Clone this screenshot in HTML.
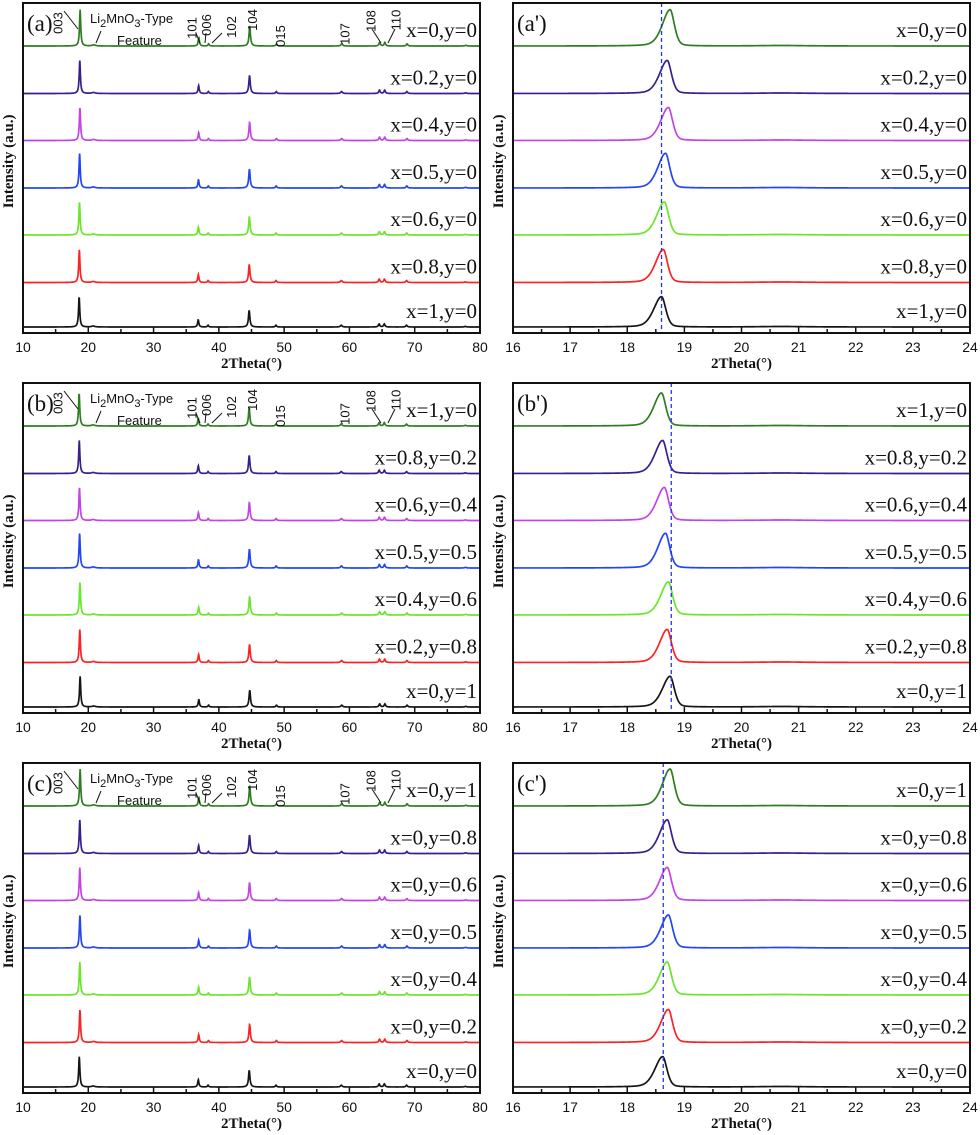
<!DOCTYPE html>
<html><head><meta charset="utf-8">
<style>
html,body{margin:0;padding:0;background:#fff;}
svg{display:block;}
.tk{font-family:"Liberation Sans",sans-serif;font-size:14px;fill:#111;}
.ttl{font-family:"Liberation Serif",serif;font-weight:bold;font-size:15px;fill:#111;}
.lab{font-family:"Liberation Serif",serif;font-size:21px;fill:#111;}
.pl{font-family:"Liberation Serif",serif;font-size:23px;fill:#111;}
.hkl{font-family:"Liberation Sans",sans-serif;font-size:13px;fill:#111;}
</style></head>
<body>
<svg id="fig" width="980" height="1135" viewBox="0 0 980 1135" xmlns="http://www.w3.org/2000/svg"></svg>
<script>
// ---- data ----
const seriesColors = ['#2f7d22','#3a1f8c','#c443e6','#2346f5','#6ae62a','#fb2222','#151515'];
const labelsA = ['x=0,y=0','x=0.2,y=0','x=0.4,y=0','x=0.5,y=0','x=0.6,y=0','x=0.8,y=0','x=1,y=0'];
const labelsB = ['x=1,y=0','x=0.8,y=0.2','x=0.6,y=0.4','x=0.5,y=0.5','x=0.4,y=0.6','x=0.2,y=0.8','x=0,y=1'];
const labelsC = ['x=0,y=1','x=0,y=0.8','x=0,y=0.6','x=0,y=0.5','x=0,y=0.4','x=0,y=0.2','x=0,y=0'];
// main (003) peak centres for zoomed panels
const centersA = [18.75,18.70,18.72,18.67,18.65,18.63,18.60];
const centersB = [18.60,18.62,18.65,18.67,18.72,18.70,18.75];
const centersC = [18.75,18.70,18.70,18.72,18.70,18.72,18.62];
const dashA = 18.60, dashB = 18.77, dashC = 18.63;
// peak heights (relative units) for zoomed panels
const heightsA = [1.10,1.00,1.00,1.05,1.00,1.00,0.92];
const heightsB = [1.00,1.00,1.00,1.05,1.00,1.00,0.93];
const heightsC = [1.12,1.02,1.00,1.00,1.00,1.00,0.92];
// wide-scan reflections: positions (deg) and relative intensity
const peakPos = [18.7,20.8,36.9,38.4,44.7,48.8,58.8,64.6,65.4,68.8,77.8];
const peakInt = [1.00,0.03,0.24,0.06,0.55,0.06,0.06,0.10,0.10,0.06,0.02];
const peakWid = [0.22,0.6,0.22,0.2,0.26,0.22,0.3,0.25,0.25,0.25,0.3];
const ticksWide = [10,20,30,40,50,60,70,80];
const ticksZoom = [16,17,18,19,20,21,22,23,24];
const hklNames = ['003','101','006','102','104','015','107','108','110'];
const hklPos = [15.4,36.0,38.2,42.0,45.2,49.5,59.4,63.4,67.2];
const hklY = [20,25,22,24,17,33,31,18,17];

// ---- layout ----
const svg = document.getElementById('fig');
const NS = 'http://www.w3.org/2000/svg';
const rowTops = [3,383,763];
const PH = 330;
const baseOff = [43,90.5,137.5,185,232,279.5,324];
const SCALE = 33;
function mk(tag, attrs, parent){const e=document.createElementNS(NS,tag);for(const k in attrs)e.setAttribute(k,attrs[k]);(parent||svg).appendChild(e);return e;}

function drawPanel(opts){
  const {x0,x1,top,dmin,dmax,ticks,minorStep,name,labels,plabel,fn,dash} = opts;
  const bot = top+PH;
  const g = mk('g',{});
  
  
  const sx = d => x0 + (d-dmin)/(dmax-dmin)*(x1-x0);
  for(let i=0;i<7;i++){
    const base = top+baseOff[i];
    let dstr=''; const step=(dmax-dmin)/1600;
    for(let k=0;k<=1600;k++){const d=dmin+k*step;const y=base-fn(i,d)*SCALE;dstr+=(k?'L':'M')+sx(d).toFixed(2)+' '+y.toFixed(2);}
    const p = mk('path',{d:dstr,fill:'none',stroke:seriesColors[i],'stroke-width':1.7},g);
    
    
    const t = mk('text',{x:x1-3,y:base-9,'text-anchor':'end',class:'lab'},g);
    t.textContent = labels[i];
    
    
  }
  if(dash!==undefined){
    const l = mk('line',{x1:sx(dash),x2:sx(dash),y1:top,y2:bot,stroke:'#2233ee','stroke-width':1.3,'stroke-dasharray':'4,3'},g);
    
    
  }
  const fr = mk('rect',{x:x0,y:top,width:x1-x0,height:PH,fill:'none',stroke:'#111','stroke-width':2},g);
  
  
  for(let d=dmin; d<=dmax+1e-9; d+=minorStep){
    const major = ticks.some(t=>Math.abs(t-d)<1e-6);
    mk('line',{x1:sx(d),x2:sx(d),y1:bot,y2:bot-(major?6:4),stroke:'#111','stroke-width':1.5},g);
  }
  ticks.forEach(t=>{
    const e = mk('text',{x:sx(t),y:bot+19,'text-anchor':'middle',class:'tk'},g);
    e.textContent = t;
    
    
  });
  const xt = mk('text',{x:(x0+x1)/2,y:bot+35,'text-anchor':'middle',class:'ttl'},g);
  xt.textContent = '2Theta(°)';
  
  
  const yt = mk('text',{x:0,y:0,'text-anchor':'middle',class:'ttl',transform:`translate(${x0-10},${top+PH*0.48}) rotate(-90)`},g);
  yt.textContent = 'Intensity (a.u.)';
  
  
  const pl = mk('text',{x:x0+4,y:top+28,class:'pl'},g);
  pl.textContent = plabel;
  
  
  return {g,sx};
}

function wideFn(centers, heights){
  return (i,d)=>{
    const shift = centers[i]-18.7;
    let s=0;
    for(let k=0;k<peakPos.length;k++){
      const u=(d-(peakPos[k]+shift*(k===0?1:0.6)))/peakWid[k];
      s+=peakInt[k]/(1+u*u*4);
    }
    return s*heights[i];
  };
}
function zoomFn(centers, heights){
  return (i,d)=>{
    const u=d-centers[i];
    const w = u<0?0.2:0.11;
    const v=u/w;
    let s = heights[i]*(0.65*Math.exp(-v*v*1.0)+0.35/(1+v*v*2));
    const b=(d-20.7)/0.5; s+=0.015/(1+b*b);
    return s;
  };
}

const rows = [
  {labels:labelsA,centers:centersA,heights:heightsA,dash:dashA,pl:'(a)',pz:"(a')"},
  {labels:labelsB,centers:centersB,heights:heightsB,dash:dashB,pl:'(b)',pz:"(b')"},
  {labels:labelsC,centers:centersC,heights:heightsC,dash:dashC,pl:'(c)',pz:"(c')"}
];
rows.forEach((r,ri)=>{
  const top=rowTops[ri];
  const L = drawPanel({x0:23,x1:480,top,dmin:10,dmax:80,ticks:ticksWide,minorStep:5,
    name:'panel-'+'abc'[ri]+'-wide',labels:r.labels,plabel:r.pl,fn:wideFn(r.centers,r.heights)});
  drawPanel({x0:513,x1:970,top,dmin:16,dmax:24,ticks:ticksZoom,minorStep:0.5,
    name:'panel-'+'abc'[ri]+'-zoom',labels:r.labels,plabel:r.pz,fn:zoomFn(r.centers,r.heights),dash:r.dash});
  hklNames.forEach((h,k)=>{
    const x=L.sx(hklPos[k]), y=top+hklY[k];
    const t = mk('text',{x:0,y:0,'text-anchor':'middle',class:'hkl',transform:`translate(${x+4},${y}) rotate(-90)`},L.g);
    t.textContent=h;
    
    
  });
  const f1 = mk('text',{x:90,y:top+20,class:'hkl','font-size':'14'},L.g);
  f1.innerHTML='Li<tspan font-size="11" dy="4">2</tspan><tspan dy="-4">MnO</tspan><tspan font-size="11" dy="4">3</tspan><tspan dy="-4">-Type</tspan>';
  
  
  const f2 = mk('text',{x:117,y:top+42,class:'hkl','font-size':'14'},L.g);
  f2.textContent='Feature';
  
  
  const arr=[[64,8,78,26],[101,28,96,40],[196,30,200,40],[206,30,205,40],[222,30,212,40],[372,26,381,40],[395,26,388,40]];
  arr.forEach(a=>{mk('line',{x1:a[0],y1:top+a[1],x2:a[2],y2:top+a[3],stroke:'#111','stroke-width':1},L.g);});
});
</script>
</body></html>
